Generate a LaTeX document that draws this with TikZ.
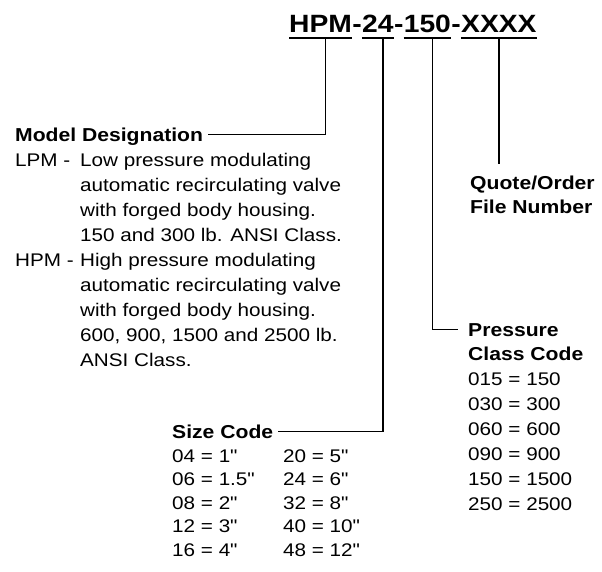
\documentclass[tikz,border=0pt]{standalone}
\usepackage{fontspec}
\setmainfont{Liberation Sans}[FakeStretch=1.13, Ligatures=TeXOff]
\usetikzlibrary{positioning, calc}

\newcommand{\bodyfont}{\fontsize{18.3}{25}\selectfont}
\newcommand{\titlefont}{\fontsize{18.7}{24}\selectfont\bfseries}
\newcommand{\headfont}{\fontsize{25}{30}\selectfont\bfseries}

\begin{document}
\begin{tikzpicture}[x=1pt, y=-1pt,
    seg/.style={inner sep=0pt, font=\headfont, anchor=base west},
    lbl/.style={inner sep=0pt, font=\bodyfont, anchor=base west},
    title/.style={lbl, font=\titlefont},
    lead/.style={line width=1.6pt}]
    \useasboundingbox (0,0) rectangle (602,571);

    % part number
    \node[seg] (hpm) at (289,32) {HPM};
    \node[seg, right=0pt of hpm.base east, anchor=base west] (h1) {-};
    \node[seg, right=0pt of h1.base east, anchor=base west] (sz) {24};
    \node[seg, right=0pt of sz.base east, anchor=base west] (h2) {-};
    \node[seg, right=0pt of h2.base east, anchor=base west] (cls) {150};
    \node[seg, right=0pt of cls.base east, anchor=base west] (h3) {-};
    \node[seg, right=0pt of h3.base east, anchor=base west] (num) {XXXX};
    \foreach \s in {hpm, sz, cls, num}
        \draw[lead] ([yshift=-6pt]\s.base west) -- ([yshift=-6pt]\s.base east);

    % model designation
    \node[title] (model) at (15,141) {Model Designation};
    \node[lbl] (models) at (15,166) {\begin{tabular}[t]{@{}p{65pt}@{}l@{}}
        LPM - & Low pressure modulating\\
              & automatic recirculating valve\\
              & with forged body housing.\\
              & 150 and 300 lb. ANSI Class.\\
        HPM - & High pressure modulating\\
              & automatic recirculating valve\\
              & with forged body housing.\\
              & 600, 900, 1500 and 2500 lb.\\
              & ANSI Class.
    \end{tabular}};

    % size code
    \node[title] (size) at (172,438) {Size Code};
    \node[lbl, font=\fontsize{18.3}{23.5}\selectfont] (sizes) at (172,462) {\begin{tabular}[t]{@{}p{111pt}@{}l@{}}
        04 = 1"   & 20 = 5"\\
        06 = 1.5" & 24 = 6"\\
        08 = 2"   & 32 = 8"\\
        12 = 3"   & 40 = 10"\\
        16 = 4"   & 48 = 12"
    \end{tabular}};

    % quote / order number
    \node[title] (quote) at (470,189)
        {\begin{tabular}[t]{@{}l@{}}Quote/Order\\File Number\end{tabular}};

    % pressure class
    \node[title] (press) at (468,336)
        {\begin{tabular}[t]{@{}l@{}}Pressure\\Class Code\end{tabular}};
    \node[lbl] (classes) at (468,385) {\begin{tabular}[t]{@{}l@{}}
        015 = 150\\
        030 = 300\\
        060 = 600\\
        090 = 900\\
        150 = 1500\\
        250 = 2500
    \end{tabular}};

    % leaders
    \draw[lead] ([xshift=5pt, yshift=-6pt]hpm.base) |- ([xshift=5pt, yshift=6.4pt]model.base east);
    \draw[lead] ([xshift=5pt, yshift=-6pt]sz.base) |- ([xshift=5pt, yshift=6.4pt]size.base east);
    \draw[lead] ([xshift=5pt, yshift=-6pt]cls.base) |- ([xshift=-10pt, yshift=6.4pt]press.base west);
    \draw[lead] ([yshift=-6pt]num.base) -- ($(num.base |- quote.north)+(0,-8)$);
\end{tikzpicture}
\end{document}
